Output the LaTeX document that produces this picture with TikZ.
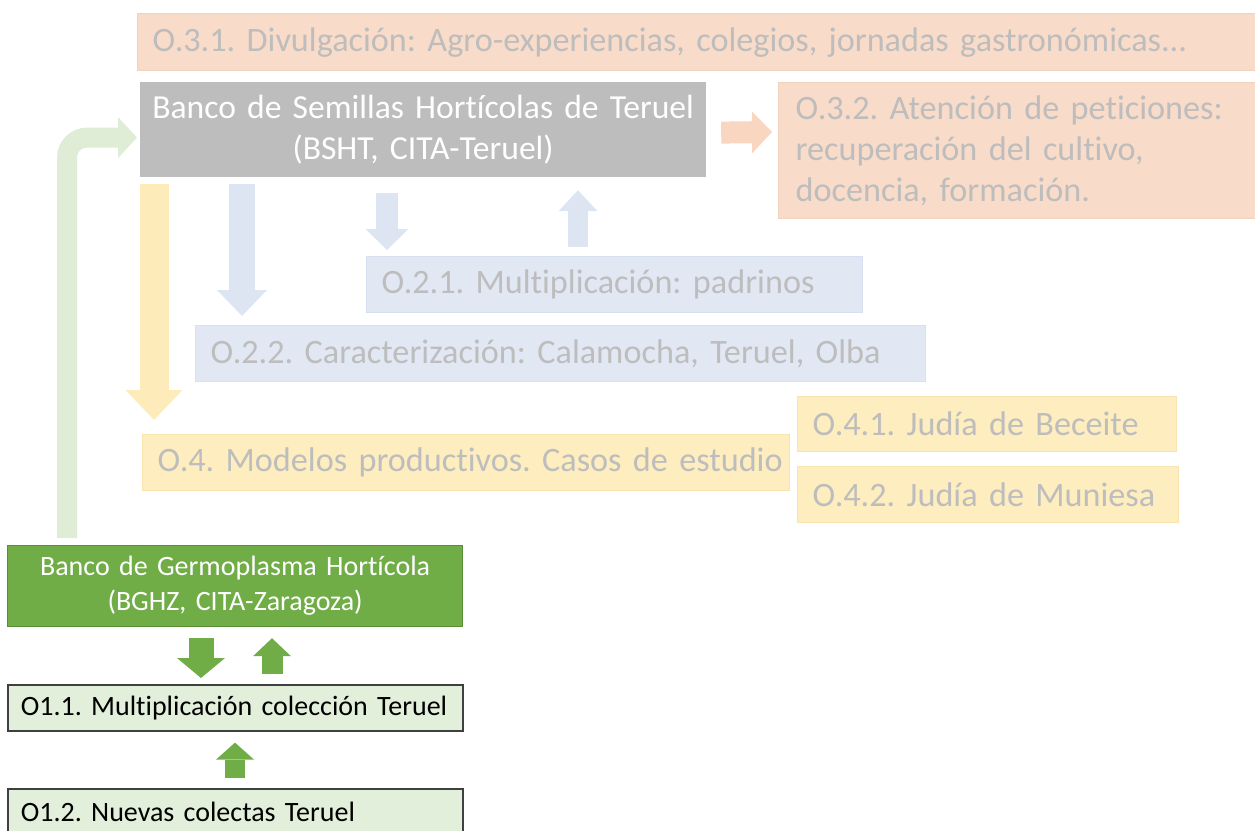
\documentclass[tikz,border=0pt]{standalone}
\usepackage{fontspec}
\setmainfont{Carlito}[Ligatures=NoCommon]
\usetikzlibrary{arrows.meta,calc}
\frenchspacing
\hyphenpenalty=10000

\definecolor{peach}{HTML}{F8DBC8}
\definecolor{peachline}{HTML}{F3D2BC}
\definecolor{peacharr}{HTML}{F8D6C0}
\definecolor{bluefill}{HTML}{E1E7F3}
\definecolor{blueline}{HTML}{D7E0F1}
\definecolor{bluearr}{HTML}{DDE4F2}
\definecolor{yelfill}{HTML}{FDEDBF}
\definecolor{yelline}{HTML}{F8E4AE}
\definecolor{yelarr}{HTML}{FDEBBA}
\definecolor{ltgreen}{HTML}{E2EFDA}
\definecolor{ltgreenarr}{HTML}{DFECD6}
\definecolor{dkgreen}{HTML}{70AD47}
\definecolor{dkgreenline}{HTML}{5A8F38}
\definecolor{greybox}{HTML}{BDBDBD}
\definecolor{fadetxt}{HTML}{BDBDBD}

\newcommand{\bigtxt}{\fontsize{17.1}{20.5}\selectfont}
\newcommand{\midtxt}{\fontsize{16.8}{20.5}\selectfont}
\newcommand{\smalltxt}{\fontsize{14}{17.5}\selectfont}

\begin{document}
\begin{tikzpicture}[x=0.5pt,y=-0.5pt,
    box/.style={draw,rectangle,anchor=north west,inner ysep=0pt,inner xsep=7.5pt,
      align=left,font=\bigtxt,text=fadetxt,line width=0.6pt},
    peachbox/.style={box,fill=peach,draw=peachline},
    bluebox/.style={box,fill=bluefill,draw=blueline},
    yelbox/.style={box,fill=yelfill,draw=yelline},
    lowbox/.style={box,fill=ltgreen,draw=black!75,text=black,font=\smalltxt,inner xsep=6.5pt,line width=0.8pt},
    blockarr/.style={line width=#1,line cap=butt}]

    \useasboundingbox (0,0) rectangle (1255,831);

    % top part: BSHT and its objectives
    \node[peachbox,text width=545.5pt,minimum height=28.5pt] (o31) at (137,13)
        {O.3.1. Divulgación: Agro-experiencias, colegios, jornadas gastronómicas...};
    \node[box,fill=greybox,draw=greybox,text=white,font=\midtxt,align=center,inner xsep=0pt,text width=282.5pt,minimum height=47pt] (bsht) at (140,82)
        {Banco de Semillas Hortícolas de Teruel\\(BSHT, CITA-Teruel)};
    \node[peachbox,inner xsep=8.5pt,text width=223pt,minimum height=68pt] (o32) at (778,82)
        {O.3.2. Atención de peticiones:\\recuperación del cultivo,\\docencia, formación.};
    \node[bluebox,text width=233pt,minimum height=28pt] (o21) at (366,256)
        {O.2.1. Multiplicación: padrinos};
    \node[bluebox,text width=350pt,minimum height=28pt] (o22) at (195,325)
        {O.2.2. Caracterización: Calamocha, Teruel, Olba};
    \node[yelbox,text width=308.5pt,minimum height=28pt] (o4) at (142,434)
        {\mbox{O.4. Modelos productivos. Casos de estudio}};
    \node[yelbox,text width=174.5pt,minimum height=27.5pt] (o41) at (797,396)
        {O.4.1. Judía de Beceite};
    \node[yelbox,text width=175.5pt,minimum height=28pt] (o42) at (797,466)
        {O.4.2. Judía de Muniesa};

    % bottom part: BGHZ
    \node[box,fill=dkgreen,draw=dkgreenline,text=white,font=\smalltxt,align=center,inner xsep=0pt,text width=227.5pt,minimum height=40.5pt] (bghz) at (7,545)
        {Banco de Germoplasma Hortícola\\(BGHZ, CITA-Zaragoza)};
    \node[lowbox,text width=214.5pt,minimum height=23pt] (o11) at (7,684)
        {O1.1. Multiplicación colección Teruel};
    \node[lowbox,text width=214.5pt,minimum height=23pt] (o12) at (7,788)
        {O1.2. Nuevas colectas Teruel};

    % block arrows
    \draw[blockarr=10pt,ltgreenarr,rounded corners=10pt,-{Triangle[width=20.5pt,length=9.5pt,line width=0pt]}]
        ($(bghz.north west)+(60,-7)$) |- ($(bsht.west)+(-3,8)$);
    \draw[blockarr=14.5pt,yelarr,-{Triangle[width=28.5pt,length=15pt,line width=0pt]}]
        ($(bsht.south west)+(14,7)$) -- ($(o4.north west)+(12,-14)$);
    \draw[blockarr=13pt,bluearr,-{Triangle[width=25pt,length=13pt,line width=0pt]}]
        ($(bsht.south west)+(102,7)$) -- ($(o22.north west)+(47,-9)$);
    \draw[blockarr=11pt,bluearr,-{Triangle[width=21.5pt,length=10.5pt,line width=0pt]}]
        ($(bsht.south west)+(247,16)$) -- ($(o21.north west)+(21,-6)$);
    \draw[blockarr=10pt,bluearr,-{Triangle[width=19.5pt,length=10.5pt,line width=0pt]}]
        ($(o21.north west)+(212,-9)$) -- ($(bsht.south west)+(438,13)$);
    \draw[blockarr=11pt,peacharr,-{Triangle[width=21pt,length=10pt,line width=0pt]}]
        ($(bsht.east)+(15,3)$) -- ($(o32.north west)+(-6,50)$);
    \draw[blockarr=12.5pt,dkgreen,-{Triangle[width=24pt,length=10pt,line width=0pt]}]
        ($(bghz.south west)+(194,11)$) -- ($(o11.north west)+(194,-6)$);
    \draw[blockarr=10.5pt,dkgreen,-{Triangle[width=19pt,length=9pt,line width=0pt]}]
        ($(o11.north west)+(265,-10)$) -- ($(bghz.south west)+(265,11)$);
    \draw[blockarr=10pt,dkgreen,-{Triangle[width=19pt,length=8.5pt,line width=0pt]}]
        ($(o12.north west)+(228,-10)$) -- ($(o11.south west)+(228,11)$);
\end{tikzpicture}
\end{document}
